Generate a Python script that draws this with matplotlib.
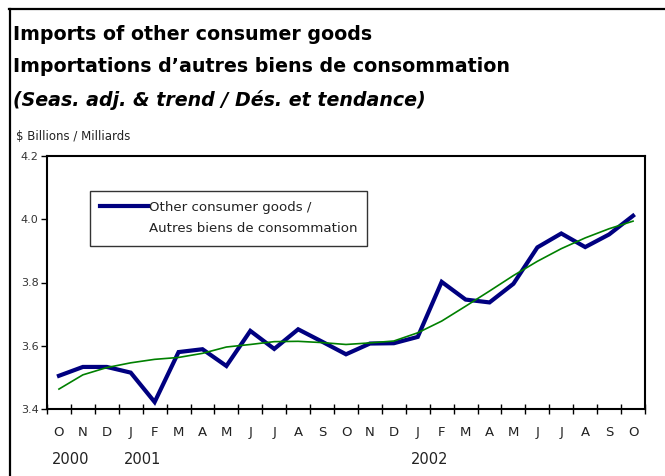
import matplotlib
matplotlib.use("Agg")
import matplotlib.pyplot as plt
from matplotlib.lines import Line2D
from matplotlib.legend_handler import HandlerLine2D
from matplotlib.transforms import blended_transform_factory

months = ["O", "N", "D", "J", "F", "M", "A", "M", "J", "J", "A", "S",
          "O", "N", "D", "J", "F", "M", "A", "M", "J", "J", "A", "S", "O"]
years = ["2000", "2001", "2002"]
year_pos = [0.5, 3.5, 15.5]

seas_adj = [3.505, 3.533, 3.533, 3.515, 3.422, 3.580, 3.589, 3.536, 3.647,
            3.590, 3.652, 3.613, 3.573, 3.607, 3.608, 3.628, 3.802, 3.746,
            3.737, 3.796, 3.911, 3.955, 3.912, 3.952, 4.011]
trend = [3.463, 3.508, 3.531, 3.546, 3.557, 3.563, 3.576, 3.596, 3.604,
         3.613, 3.614, 3.610, 3.604, 3.609, 3.615, 3.641, 3.678, 3.725,
         3.773, 3.822, 3.867, 3.907, 3.941, 3.970, 3.994]

yticks = [3.4, 3.6, 3.8, 4.0, 4.2]
ytick_labels = ["3.4", "3.6", "3.8", "4.0", "4.2"]

W, H = 665, 476
fig = plt.figure(figsize=(W / 100, H / 100), dpi=100)

def fx(px):
    return px / W

def fy(py):
    return 1 - py / H

# outer frame (top and left only)
fig.add_artist(Line2D([fx(9), 1.0], [fy(9), fy(9)], color="black", lw=1.6))
fig.add_artist(Line2D([fx(10), fx(10)], [fy(9), 0.0], color="black", lw=1.6))

title_font = "DejaVu Sans"
fig.text(fx(13), fy(34), "Imports of other consumer goods", fontsize=13.7,
         fontweight="bold", family=title_font, va="center", ha="left")
fig.text(fx(13), fy(67), "Importations d\u2019autres biens de consommation",
         fontsize=13.7, fontweight="bold", family=title_font, va="center", ha="left")
fig.text(fx(13), fy(100), "(Seas. adj. & trend / D\u00e9s. et tendance)",
         fontsize=13.7, fontweight="bold", style="italic", family=title_font,
         va="center", ha="left")
fig.text(fx(16), fy(137), "$ Billions / Milliards", fontsize=8.5,
         family="DejaVu Sans", color="#222222", va="center", ha="left")

left, right, top, bottom = 47, 645, 156, 409
ax = fig.add_axes([fx(left), fy(bottom), (right - left) / W, (bottom - top) / H])

x = list(range(len(months)))
ax.plot(x, seas_adj, color="#000080", lw=3.0, solid_joinstyle="miter",
        label="Other consumer goods /\nAutres biens de consommation", zorder=3)
ax.plot(x, trend, color="#008000", lw=1.2, zorder=4)

ax.set_xlim(-0.5, len(months) - 0.5)
ax.set_ylim(3.4, 4.2)
ax.set_yticks(yticks)
ax.set_yticklabels(ytick_labels, fontsize=8, color="#333333", family="DejaVu Sans")
ax.tick_params(axis="y", direction="out", length=4, width=1, pad=2)

ax.set_xticks([i - 0.5 for i in range(len(months) + 1)])
ax.set_xticklabels([])
ax.tick_params(axis="x", which="major", direction="inout", length=7, width=1)
ax.set_xticks(x, minor=True)
ax.set_xticklabels(months, minor=True, fontsize=9.5, color="#222222",
                   family="DejaVu Sans")
ax.tick_params(axis="x", which="minor", length=0, pad=12)

for s in ax.spines.values():
    s.set_linewidth(1.5)

tr = blended_transform_factory(ax.transData, fig.transFigure)
for yl, xp in zip(years, year_pos):
    ax.text(xp, fy(460), yl, transform=tr, fontsize=10.5, color="#222222",
            family="DejaVu Sans", ha="center", va="center")


class HandlerTop(HandlerLine2D):
    def create_artists(self, legend, orig_handle, xdescent, ydescent,
                       width, height, fontsize, trans):
        return super().create_artists(legend, orig_handle, xdescent,
                                      ydescent - 17.5, width, height,
                                      fontsize, trans)


leg = ax.legend(loc="upper left", bbox_to_anchor=((90 - left) / (right - left),
                                                  (bottom - 191) / (bottom - top)),
                frameon=True, fancybox=False, edgecolor="black", fontsize=9.6,
                handlelength=3.6, handletextpad=0.05, borderpad=0.75,
                borderaxespad=0, handler_map={Line2D: HandlerTop()})
leg.get_frame().set_linewidth(1.0)
for t in leg.get_texts():
    t.set_linespacing(1.85)
    t.set_color("#222222")

fig.savefig("out.png", dpi=100)
